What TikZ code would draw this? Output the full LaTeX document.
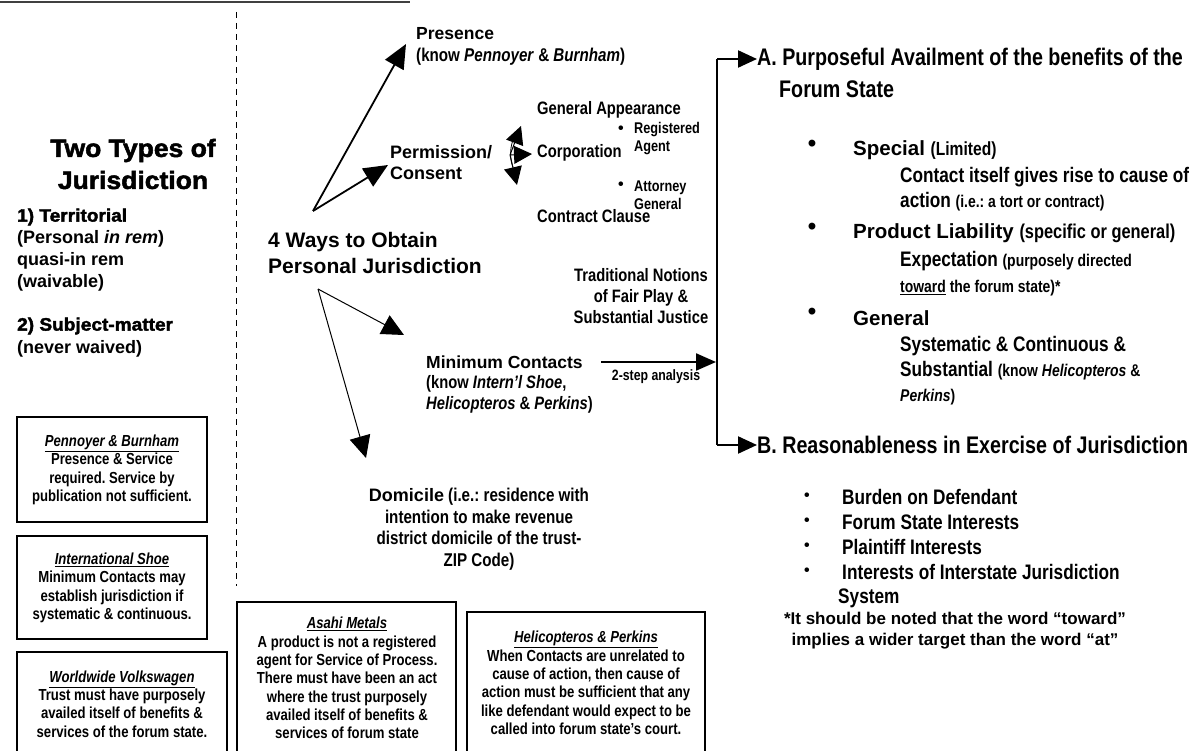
\documentclass[tikz,border=0pt]{standalone}
\usepackage{fontspec}
\setmainfont{Liberation Sans}
\newfontfamily\nf[FakeStretch=0.82]{Liberation Sans}
\newfontfamily\blk[FakeBold=2,FakeStretch=1.06]{Liberation Sans}
\usetikzlibrary{arrows.meta}
\newcommand\fsz[2]{\fontsize{#1}{#2}\selectfont}
\tikzset{
  txt/.style={inner sep=0pt, font=\bfseries},
  ntxt/.style={inner sep=0pt, font=\nf\bfseries},
  boxline/.style={line width=2.8pt},
  boxtext/.style={inner sep=0pt, align=center, font=\nf\bfseries\fsz{16}{18.3}},
  bigarrow/.style={-{Triangle[length=24pt,width=21pt]}, line width=1.8pt},
  thinarrow/.style={-{Triangle[length=22pt,width=21pt]}, line width=1pt},
  smallarrow/.style={-{Triangle[length=18pt,width=18pt]}, line width=1pt},
  brkarrow/.style={-{Triangle[length=19pt,width=17pt]}, line width=2.2pt},
  bul/.style={inner sep=0pt, font=\bfseries\fsz{24}{24}},
  sbul/.style={inner sep=0pt, font=\bfseries\fsz{16}{16}}
}
\begin{document}
\frenchspacing
\begin{tikzpicture}[x=1pt,y=-1pt]
\useasboundingbox (0,0) rectangle (1198,751);
\fill[white] (0,0) rectangle (1198,751);

% top rule and dashed divider
\coordinate (rl) at (0,2); \coordinate (rr) at (410,2);
\draw[line width=1.5pt, black!75] (rl) -- (rr);
\coordinate (dt) at (236,12); \coordinate (db) at (236,586);
\draw[line width=0.8pt, dash pattern=on 6pt off 5pt] (dt) -- (db);

% left column
\node[txt, align=center, font=\blk\bfseries\fsz{25}{32}] (title) at (133,164) {Two Types of\\Jurisdiction};
\node[txt, anchor=west, font=\blk\bfseries\fsz{18}{22}] (t1) at (17,217) {1) Territorial};
\node[txt, anchor=west, align=left, font=\bfseries\fsz{18}{22}] (t1b) at (17,261) {(Personal \textit{in rem})\\quasi-in rem\\(waivable)};
\node[txt, anchor=west, font=\blk\bfseries\fsz{18}{22}] (t2) at (17,326) {2) Subject-matter};
\node[txt, anchor=west, font=\bfseries\fsz{18}{22}] (t2b) at (17,349) {(never waived)};

% case boxes
\draw[boxline] (17,417) rectangle (207,522);
\node[boxtext] (pen) at (112,470) {\underline{\textit{Pennoyer \& Burnham}}\\Presence \& Service\\required. Service by\\publication not sufficient.};
\draw[boxline] (17,536) rectangle (207,639);
\node[boxtext] (shoe) at (112,588) {\underline{\textit{International Shoe}}\\Minimum Contacts may\\establish jurisdiction if\\systematic \& continuous.};
\draw[boxline] (17,652) rectangle (227,770);
\node[boxtext] (vw) at (122,704) {\underline{\textit{Worldwide Volkswagen}}\\Trust must have purposely\\availed itself of benefits \&\\services of the forum state.};
\draw[boxline] (237,602) rectangle (456,770);
\node[boxtext] (asahi) at (347,678) {\underline{\textit{Asahi Metals}}\\A product is not a registered\\agent for Service of Process.\\There must have been an act\\where the trust purposely\\availed itself of benefits \&\\services of forum state};
\draw[boxline] (467,612) rectangle (705,770);
\node[boxtext] (heli) at (586,683) {\underline{\textit{Helicopteros \& Perkins}}\\When Contacts are unrelated to\\cause of action, then cause of\\action must be sufficient that any\\like defendant would expect to be\\called into forum state’s court.};

% middle
\node[txt, anchor=west, font=\bfseries\fsz{17.5}{20}] (pres) at (416,34) {Presence};
\node[ntxt, anchor=west, font=\nf\bfseries\fsz{18.5}{20}] (presk) at (416,57) {(know \textit{Pennoyer} \& \textit{Burnham})};
\node[txt, anchor=west, align=left, font=\bfseries\fsz{18}{21}] (perm) at (390,162.5) {Permission/\\Consent};
\node[txt, anchor=west, align=left, font=\bfseries\fsz{21}{25.5}] (ways) at (268,253) {4 Ways to Obtain\\Personal Jurisdiction};

\node[ntxt, anchor=west, font=\nf\bfseries\fsz{18}{20}] (genapp) at (537,110) {General Appearance};
\node[ntxt, anchor=west, font=\nf\bfseries\fsz{18}{20}] (corp) at (537,153) {Corporation};
\node[ntxt, anchor=west, font=\nf\bfseries\fsz{18}{20}] (contract) at (537,216) {Contract Clause};
\node[sbul] (b1) at (621,130) {•};
\node[ntxt, anchor=west, align=left, font=\nf\bfseries\fsz{15.5}{17.5}] (regag) at (634,138.5) {Registered\\Agent};
\node[sbul] (b2) at (621,186) {•};
\node[ntxt, anchor=west, align=left, font=\nf\bfseries\fsz{15.5}{17.5}] (attg) at (634,195) {Attorney\\General};

\node[ntxt, align=center, font=\nf\bfseries\fsz{18}{21}] (trad) at (641,296) {Traditional Notions\\of Fair Play \&\\Substantial Justice};
\node[txt, anchor=west, font=\bfseries\fsz{17.5}{20}] (mc) at (426,362) {Minimum Contacts};
\node[ntxt, anchor=west, align=left, font=\nf\bfseries\fsz{18}{21}] (mck) at (426,394) {(know \textit{Intern’l Shoe},\\\textit{Helicopteros} \& \textit{Perkins})};
\node[ntxt, font=\nf\bfseries\fsz{15}{17}] (step) at (656,377) {2-step analysis};
\node[txt, align=center, font=\nf\bfseries\fsz{18.5}{21.5}] (dom) at (479,529) {{\normalfont\bfseries\fsz{18}{21.5}Domicile} (i.e.: residence with\\intention to make revenue\\district domicile of the trust-\\ZIP Code)};

% arrows from the hub
\coordinate (o1) at (313,211);
\coordinate (presTip) at (406,44);
\coordinate (permTip) at (388,165);
\draw[bigarrow] (o1) -- (presTip);
\draw[bigarrow] (o1) -- (permTip);
\coordinate (o2) at (318,289);
\coordinate (mcTip) at (404,335);
\coordinate (domTip) at (366,458);
\draw[thinarrow] (o2) -- (mcTip);
\draw[thinarrow] (o2) -- (domTip);

% permission fan
\coordinate (pc) at (510,155);
\coordinate (gaTip) at (521,126);
\coordinate (coTip) at (532,154);
\coordinate (ccTip) at (517,185);
\draw[smallarrow] (pc) -- (gaTip);
\draw[smallarrow] (pc) -- (coTip);
\draw[smallarrow] (pc) -- (ccTip);
\draw[line width=0.8pt] (513,140) arc[start angle=160, end angle=200, radius=40pt];

% bracket on the right
\coordinate (bt) at (717,59);
\coordinate (bb) at (717,445);
\draw[line width=2.2pt] (bt) -- (bb);
\coordinate (mcStart) at (601,362);
\coordinate (mcEnd) at (716,362);
\draw[-{Triangle[length=20pt,width=17pt]}, line width=2.2pt] (mcStart) -- (mcEnd);

% right column
\node[ntxt, anchor=west, font=\nf\bfseries\fsz{24}{30}] (A) at (757,59) {A. Purposeful Availment of the benefits of the};
\node[ntxt, anchor=west, font=\nf\bfseries\fsz{24}{30}] (A2) at (779,89) {Forum State};
\draw[brkarrow] (bt) -- (A.west);

\node[bul] (ba1) at (812,146) {•};
\node[txt, anchor=west, font=\bfseries\fsz{20.5}{24}] (spec) at (853,150) {Special {\nf\fsz{19}{24}(Limited)}};
\node[ntxt, anchor=west, align=left, font=\nf\bfseries\fsz{21}{25}] (spec2) at (900,189) {Contact itself gives rise to cause of\\action {\fsz{17}{25}(i.e.: a tort or contract)}};
\node[bul] (ba2) at (812,229) {•};
\node[txt, anchor=west, font=\bfseries\fsz{20.5}{24}] (prod) at (853,233) {Product Liability {\nf\fsz{20}{24}(specific or general)}};
\node[ntxt, anchor=west, align=left, font=\nf\bfseries\fsz{21}{26}] (prod2) at (900,274) {Expectation {\fsz{17}{26}(purposely directed}\\{\fsz{17}{26}\underline{toward} the forum state)*}};
\node[bul] (ba3) at (812,314) {•};
\node[txt, anchor=west, font=\bfseries\fsz{20.5}{24}] (gen) at (853,318) {General};
\node[ntxt, anchor=west, align=left, font=\nf\bfseries\fsz{21}{25}] (gen2) at (900,371) {Systematic \& Continuous \&\\Substantial {\fsz{17}{25}(know \textit{Helicopteros} \&}\\{\fsz{17}{25}\textit{Perkins})}};

\node[ntxt, anchor=west, font=\nf\bfseries\fsz{24}{30}] (B) at (757,445) {B. Reasonableness in Exercise of Jurisdiction};
\draw[brkarrow] (bb) -- (B.west);

\node[sbul] (bb1) at (807,497) {•};
\node[ntxt, anchor=west, font=\nf\bfseries\fsz{21}{25}] (r1) at (842,497) {Burden on Defendant};
\node[sbul] (bb2) at (807,522) {•};
\node[ntxt, anchor=west, font=\nf\bfseries\fsz{21}{25}] (r2) at (842,522) {Forum State Interests};
\node[sbul] (bb3) at (807,547) {•};
\node[ntxt, anchor=west, font=\nf\bfseries\fsz{21}{25}] (r3) at (842,547) {Plaintiff Interests};
\node[sbul] (bb4) at (807,572) {•};
\node[ntxt, anchor=west, font=\nf\bfseries\fsz{21}{25}] (r4) at (842,572) {Interests of Interstate Jurisdiction};
\node[ntxt, anchor=west, font=\nf\bfseries\fsz{21}{25}] (r5) at (838,598) {System};

\node[txt, align=center, font=\bfseries\fsz{17}{21}] (note) at (955,631) {*It should be noted that the word “toward”\\implies a wider target than the word “at”};
\end{tikzpicture}
\end{document}
